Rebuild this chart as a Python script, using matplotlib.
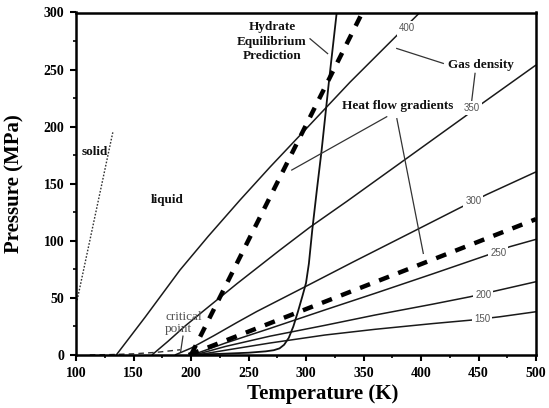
import matplotlib
matplotlib.use("Agg")
import matplotlib.pyplot as plt
from matplotlib.ticker import MultipleLocator

SERIF = "Liberation Serif"
SANS = "Liberation Sans"

# ---------------- data ----------------
# gas-density isochores (kg/m3)
iso400_T = [135, 160, 190.4, 215, 242.6, 268.7, 300, 338.3, 399]
iso400_P = [0, 33, 74.4, 104, 135.7, 164.6, 198, 239, 300]
iso350_T = [166, 180, 195, 210.7, 240, 277.4, 303.5, 335.4, 390, 438.3, 451.3, 500]
iso350_P = [0, 12, 25.5, 38.5, 62.5, 92, 112, 134.5, 174, 209, 219, 254]
iso300_T = [186, 200, 220, 240, 257, 303.5, 341, 390, 433, 457, 500]
iso300_P = [0, 6, 17, 28.5, 38, 62, 81.5, 106.5, 128.5, 140.5, 160.4]
iso250_T = [201, 230, 268.7, 316.5, 360, 410, 458, 477, 500]
iso250_P = [0, 10.5, 23.3, 39.5, 54, 71, 87.6, 94.8, 101.3]
iso200_T = [203, 230, 268.7, 316.5, 360, 410, 442.6, 468.7, 500]
iso200_P = [0, 7.5, 16.5, 26, 35, 44.5, 51, 57, 64.2]
iso150_T = [205, 235, 268.7, 316.5, 360, 410, 444, 468.7, 500]
iso150_P = [0, 5, 10.5, 17.5, 22.5, 27.5, 30.6, 33.5, 37.9]

iso_labels = ["400", "350", "300", "250", "200", "150"]
iso_label_T = [387.5, 444.5, 445.5, 467.2, 454.2, 453.3]
iso_label_P = [286, 216.5, 134.5, 89, 52.5, 31.2]

# hydrate equilibrium prediction
hyd_T = [200, 225, 250, 265, 272, 277, 281, 285, 289, 293, 297, 300, 302.5, 305.5, 309.5, 313.6, 320, 326.7]
hyd_P = [0.3, 1.0, 2.0, 3.2, 4.2, 5.8, 9, 15, 25, 38, 52, 63, 80, 110, 145, 179.5, 240, 300]

# heat flow gradients
hf1_T = [200, 349]
hf1_P = [0, 300]
hf2_T = [198, 500]
hf2_P = [0, 119]

# melting (solid/liquid) line
melt_T = [101, 132]
melt_P = [48, 195]

# vapour pressure curve up to critical point
vap_T = [112, 130, 150, 170, 190.6]
vap_P = [0.1, 0.37, 1.04, 2.33, 4.6]

# ---------------- figure ----------------
fig = plt.figure(figsize=(5.49, 4.08), dpi=100)
ax = fig.add_axes([76 / 549, 1 - 355 / 408, 460 / 549, 342.5 / 408])

iso_T = [iso400_T, iso350_T, iso300_T, iso250_T, iso200_T, iso150_T]
iso_P = [iso400_P, iso350_P, iso300_P, iso250_P, iso200_P, iso150_P]
for T, P in zip(iso_T, iso_P):
    ax.plot(T, P, color="#1a1a1a", lw=1.1, solid_capstyle="butt",
            solid_joinstyle="round")

for lab, t, p in zip(iso_labels, iso_label_T, iso_label_P):
    ax.text(t, p, lab, fontsize=7, family=SANS, color="#555555",
            ha="center", va="center",
            bbox=dict(facecolor="white", edgecolor="none", pad=1.5))

ax.plot(hyd_T, hyd_P, color="#111111", lw=1.3, solid_joinstyle="round")

for T, P in [(hf1_T, hf1_P), (hf2_T, hf2_P)]:
    ax.plot(T, P, color="black", lw=3.2, dashes=(2.4, 2.2), dash_capstyle="butt")

ax.plot(melt_T, melt_P, color="#333333", lw=1.0, linestyle=(0, (1.2, 1.2)))
ax.plot(vap_T, vap_P, color="#333333", lw=1.0, dashes=(4, 3))

# annotation leader lines
ann = [((303.5, 277), (318.8, 264)),
       ((419.4, 255.4), (378.9, 268.5)),
       ((447, 246.7), (444, 221.8)),
       ((370.2, 208.7), (287.6, 162)),
       ((379, 207), (402, 89)),
       ((193, 16.5), (191, 3))]
for (x0, y0), (x1, y1) in ann:
    ax.plot([x0, x1], [y0, y1], color="#333333", lw=0.9)

bold = dict(family=SERIF, fontweight="bold", fontsize=9.5, color="#111111")
ax.text(270.5, 274.5, "Hydrate\nEquilibrium\nPrediction", ha="center", va="center",
        linespacing=1.25, **bold)
ax.text(452, 254, "Gas density", ha="center", va="center", **bold)
ax.text(379.7, 218, "Heat flow gradients", ha="center", va="center", **bold)
ax.text(116, 178, "solid", ha="center", va="center", **bold)
ax.text(179, 136, "liquid", ha="center", va="center", **bold)
ax.text(177.4, 28, "critical\npoint", ha="left", va="center", family=SERIF,
        fontsize=9.5, color="#555555", linespacing=0.95)

ax.set_xlim(100, 500)
ax.set_ylim(0, 300)
ax.xaxis.set_major_locator(MultipleLocator(50))
ax.xaxis.set_minor_locator(MultipleLocator(25))
ax.yaxis.set_major_locator(MultipleLocator(50))
ax.yaxis.set_minor_locator(MultipleLocator(25))
ax.tick_params(which="major", direction="out", length=4, width=1.5, pad=4.5)
ax.tick_params(which="minor", direction="out", length=2.5, width=1.2)
for lab in ax.get_xticklabels() + ax.get_yticklabels():
    lab.set_family(SERIF)
    lab.set_fontweight("bold")
    lab.set_fontsize(10)
for s in ax.spines.values():
    s.set_linewidth(1.8)

ax.set_xlabel("Temperature (K)", family=SERIF, fontweight="bold", fontsize=15)
ax.xaxis.set_label_coords((323 - 76) / 460, -0.085)
ax.set_ylabel("Pressure (MPa)", family=SERIF, fontweight="bold", fontsize=15)
ax.yaxis.set_label_coords(-0.112, 0.5)

fig.savefig("out.png", dpi=100)
